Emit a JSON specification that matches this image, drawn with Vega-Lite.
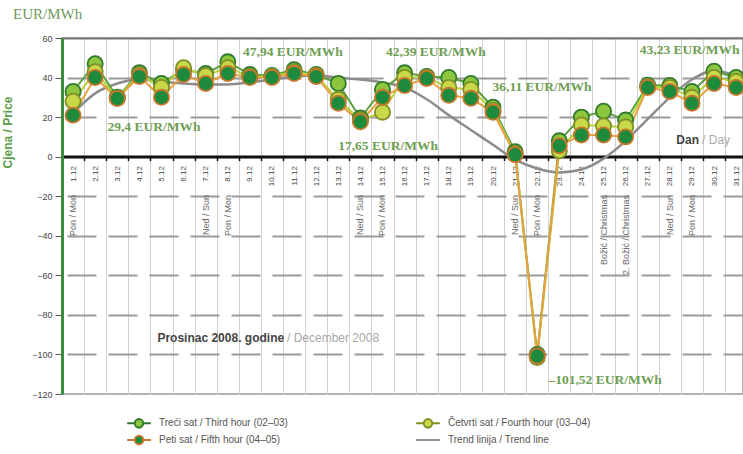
{
  "$schema": "https://vega.github.io/schema/vega-lite/v6.json",
  "width": 681,
  "height": 356,
  "autosize": {"type": "none"},
  "padding": {"left": 62, "right": 0, "top": 38, "bottom": 60},
  "background": "white",
  "title": {"text": "EUR/MWh", "anchor": "start", "frame": "group", "dx": -49, "offset": 12, "font": "Liberation Serif", "fontSize": 15, "fontWeight": "normal", "color": "#6f9a5a"},
  "config": {
    "view": {"stroke": "#9a9a9a", "strokeWidth": 1.5},
    "font": "Liberation Sans"
  },
  "datasets": {
    "series": [
      {"day": 1, "series": "T", "value": 33}, {"day": 2, "series": "T", "value": 47}, {"day": 3, "series": "T", "value": 30}, {"day": 4, "series": "T", "value": 42.5}, {"day": 5, "series": "T", "value": 37}, {"day": 6, "series": "T", "value": 44}, {"day": 7, "series": "T", "value": 42}, {"day": 8, "series": "T", "value": 47.94}, {"day": 9, "series": "T", "value": 41.5}, {"day": 10, "series": "T", "value": 41}, {"day": 11, "series": "T", "value": 44}, {"day": 12, "series": "T", "value": 41.5}, {"day": 13, "series": "T", "value": 37}, {"day": 14, "series": "T", "value": 19.5}, {"day": 15, "series": "T", "value": 34}, {"day": 16, "series": "T", "value": 42.39}, {"day": 17, "series": "T", "value": 40.5}, {"day": 18, "series": "T", "value": 40}, {"day": 19, "series": "T", "value": 37}, {"day": 20, "series": "T", "value": 25}, {"day": 21, "series": "T", "value": 2.5}, {"day": 22, "series": "T", "value": -100}, {"day": 23, "series": "T", "value": 8}, {"day": 24, "series": "T", "value": 20}, {"day": 25, "series": "T", "value": 23}, {"day": 26, "series": "T", "value": 18.5}, {"day": 27, "series": "T", "value": 36.11}, {"day": 28, "series": "T", "value": 36}, {"day": 29, "series": "T", "value": 33}, {"day": 30, "series": "T", "value": 43.23}, {"day": 31, "series": "T", "value": 40},
      {"day": 1, "series": "C", "value": 28}, {"day": 2, "series": "C", "value": 43}, {"day": 3, "series": "C", "value": 29.6}, {"day": 4, "series": "C", "value": 41.5}, {"day": 5, "series": "C", "value": 35}, {"day": 6, "series": "C", "value": 45}, {"day": 7, "series": "C", "value": 41}, {"day": 8, "series": "C", "value": 45}, {"day": 9, "series": "C", "value": 40.5}, {"day": 10, "series": "C", "value": 40.5}, {"day": 11, "series": "C", "value": 43}, {"day": 12, "series": "C", "value": 41}, {"day": 13, "series": "C", "value": 29}, {"day": 14, "series": "C", "value": 18.5}, {"day": 15, "series": "C", "value": 22.5}, {"day": 16, "series": "C", "value": 40}, {"day": 17, "series": "C", "value": 40}, {"day": 18, "series": "C", "value": 35}, {"day": 19, "series": "C", "value": 34}, {"day": 20, "series": "C", "value": 23.5}, {"day": 21, "series": "C", "value": 1.5}, {"day": 22, "series": "C", "value": -101.52}, {"day": 23, "series": "C", "value": 3}, {"day": 24, "series": "C", "value": 16}, {"day": 25, "series": "C", "value": 15.5}, {"day": 26, "series": "C", "value": 15}, {"day": 27, "series": "C", "value": 35.5}, {"day": 28, "series": "C", "value": 35}, {"day": 29, "series": "C", "value": 30}, {"day": 30, "series": "C", "value": 40}, {"day": 31, "series": "C", "value": 38},
      {"day": 1, "series": "P", "value": 21}, {"day": 2, "series": "P", "value": 40}, {"day": 3, "series": "P", "value": 29.4}, {"day": 4, "series": "P", "value": 40.5}, {"day": 5, "series": "P", "value": 30}, {"day": 6, "series": "P", "value": 41.5}, {"day": 7, "series": "P", "value": 37}, {"day": 8, "series": "P", "value": 42}, {"day": 9, "series": "P", "value": 40}, {"day": 10, "series": "P", "value": 40}, {"day": 11, "series": "P", "value": 42}, {"day": 12, "series": "P", "value": 40.5}, {"day": 13, "series": "P", "value": 27}, {"day": 14, "series": "P", "value": 17.65}, {"day": 15, "series": "P", "value": 30}, {"day": 16, "series": "P", "value": 36}, {"day": 17, "series": "P", "value": 39.5}, {"day": 18, "series": "P", "value": 31}, {"day": 19, "series": "P", "value": 29.5}, {"day": 20, "series": "P", "value": 22.5}, {"day": 21, "series": "P", "value": 1}, {"day": 22, "series": "P", "value": -100.8}, {"day": 23, "series": "P", "value": 5.5}, {"day": 24, "series": "P", "value": 11}, {"day": 25, "series": "P", "value": 11}, {"day": 26, "series": "P", "value": 10}, {"day": 27, "series": "P", "value": 35}, {"day": 28, "series": "P", "value": 33}, {"day": 29, "series": "P", "value": 27}, {"day": 30, "series": "P", "value": 37}, {"day": 31, "series": "P", "value": 35}
    ],
    "trend": [
      {"day": 1, "value": 22}, {"day": 2, "value": 32}, {"day": 3, "value": 37}, {"day": 4, "value": 39}, {"day": 5, "value": 38}, {"day": 6, "value": 37}, {"day": 7, "value": 36.5}, {"day": 8, "value": 36.5}, {"day": 9, "value": 37.5}, {"day": 10, "value": 39}, {"day": 11, "value": 40.5}, {"day": 12, "value": 41}, {"day": 13, "value": 40}, {"day": 14, "value": 39}, {"day": 15, "value": 37.5}, {"day": 16, "value": 35}, {"day": 17, "value": 29}, {"day": 18, "value": 21}, {"day": 19, "value": 13.5}, {"day": 20, "value": 6}, {"day": 21, "value": -1.5}, {"day": 22, "value": -6}, {"day": 23, "value": -8}, {"day": 24, "value": -6.5}, {"day": 25, "value": -1}, {"day": 26, "value": 8}, {"day": 27, "value": 19}, {"day": 28, "value": 30}, {"day": 29, "value": 39}, {"day": 30, "value": 43.5}, {"day": 31, "value": 41}
    ],
    "notes": [
      {"day": 4.66, "value": 15.0, "text": "29,4 EUR/MWh"},
      {"day": 10.95, "value": 52.9, "text": "47,94 EUR/MWh"},
      {"day": 17.42, "value": 52.9, "text": "42,39 EUR/MWh"},
      {"day": 15.25, "value": 5.4, "text": "17,65 EUR/MWh"},
      {"day": 22.22, "value": 35.2, "text": "36,11 EUR/MWh"},
      {"day": 28.9, "value": 53.9, "text": "43,23 EUR/MWh"},
      {"day": 25.07, "value": -112.9, "text": "–101,52 EUR/MWh"}
    ],
    "weekdays": [
      {"day": 1, "text": "Pon / Mon"}, {"day": 7, "text": "Ned / Sun"}, {"day": 8, "text": "Pon / Mon"},
      {"day": 14, "text": "Ned / Sun"}, {"day": 15, "text": "Pon / Mon"}, {"day": 21, "text": "Ned / Sun"},
      {"day": 22, "text": "Pon / Mon"}, {"day": 25, "text": "Božić / Christmas"}, {"day": 26, "text": "2. Božić / Christmas"},
      {"day": 28, "text": "Ned / Sun"}, {"day": 29, "text": "Pon / Mon"}
    ],
    "captions": [
      {"day": 10.55, "value": -91.7, "text": "Prosinac 2008. godine", "part": "hr"},
      {"day": 10.68, "value": -91.7, "text": "/ December 2008", "part": "en"},
      {"day": 29.32, "value": 8.4, "text": "Dan", "part": "hr"},
      {"day": 29.46, "value": 8.4, "text": "/ Day", "part": "en"}
    ]
  },
  "resolve": {"axis": {"x": "independent", "y": "independent"}},
  "layer": [
    {
      "data": {"name": "trend"},
      "mark": {"type": "line", "color": "#8c8c8c", "strokeWidth": 2.5, "interpolate": "monotone"},
      "encoding": {
        "x": {"field": "day", "type": "quantitative", "scale": {"domain": [0.5, 31.31], "nice": false, "zero": false},
          "axis": {"orient": "top", "values": [0.5,1.5,2.5,3.5,4.5,5.5,6.5,7.5,8.5,9.5,10.5,11.5,12.5,13.5,14.5,15.5,16.5,17.5,18.5,19.5,20.5,21.5,22.5,23.5,24.5,25.5,26.5,27.5,28.5,29.5,30.5],
            "grid": true, "gridColor": "#d2d2d2", "gridWidth": 1, "labels": false, "ticks": false, "domain": true, "domainColor": "#777", "domainWidth": 2, "title": null}},
        "y": {"field": "value", "type": "quantitative", "scale": {"domain": [-120, 60], "nice": false, "zero": false},
          "axis": {"orient": "left", "values": [-120,-100,-80,-60,-40,-20,0,20,40,60],
            "grid": true, "gridColor": "#9a9a9a", "gridWidth": 2, "gridDash": [29, 12], "gridDashOffset": 36,
            "gridOpacity": {"condition": {"test": "datum.value == 0 || datum.value == 60 || datum.value == -120", "value": 0}, "value": 1},
            "domainColor": "#3d8b3d", "domainWidth": 3, "tickColor": "#555", "tickSize": 7, "labelFontSize": 9, "labelColor": "#444", "labelPadding": 3,
            "title": "Cjena / Price", "titleColor": "#5aa046", "titleFontSize": 12, "titleFontWeight": "bold", "titleX": -48, "titleY": 94}}
      }
    },
    {
      "data": {"name": "series"},
      "mark": {"type": "line", "strokeWidth": 2},
      "encoding": {
        "x": {"field": "day", "type": "quantitative", "scale": {"domain": [0.5, 31.31], "nice": false, "zero": false},
          "axis": {"orient": "bottom", "offset": -237.4, "values": [1,2,3,4,5,6,7,8,9,10,11,12,13,14,15,16,17,18,19,20,21,22,23,24,25,26,27,28,29,30,31],
            "labelExpr": "datum.value + '.12'", "labelAngle": 270, "labelFontSize": 8, "labelColor": "#444", "labelPadding": 5, "labelFlush": false, "labelOverlap": false,
            "grid": false, "domain": true, "domainColor": "#111", "domainWidth": 3, "ticks": true, "tickColor": "#111", "tickSize": 4, "tickWidth": 1.5, "tickOffset": 11.05, "labelOffset": -11.05, "title": null}},
        "y": {"field": "value", "type": "quantitative", "scale": {"domain": [-120, 60], "nice": false, "zero": false}, "axis": null},
        "color": {"field": "series", "type": "nominal", "scale": {"domain": ["T", "C", "P"], "range": ["#5aa03c", "#b8d23c", "#e8a040"]}, "legend": null},
        "detail": {"field": "series"}
      }
    },
    {
      "data": {"name": "series"},
      "mark": {"type": "point", "shape": "circle", "filled": true, "size": 230, "strokeWidth": 1.8, "opacity": 1},
      "encoding": {
        "x": {"field": "day", "type": "quantitative", "scale": {"domain": [0.5, 31.31], "nice": false, "zero": false}, "axis": null},
        "y": {"field": "value", "type": "quantitative", "scale": {"domain": [-120, 60], "nice": false, "zero": false}, "axis": null},
        "fill": {"field": "series", "type": "nominal", "scale": {"domain": ["T", "P", "C", "Trend"], "range": ["#8cc63f", "#1e8a3c", "#c9d848", "#8c8c8c"]},
          "legend": {"orient": "none", "legendX": 71, "legendY": 379, "columns": 2, "title": null, "padding": 0,
            "labelExpr": "datum.label == 'T' ? 'Treći sat / Third hour (02–03)' : datum.label == 'C' ? 'Četvrti sat / Fourth hour (03–04)' : datum.label == 'P' ? 'Peti sat / Fifth hour (04–05)' : 'Trend linija / Trend line'",
            "labelFontSize": 10, "labelColor": "#555", "labelFont": "Liberation Sans", "symbolSize": 90, "symbolStrokeWidth": 2, "labelOffset": 14, "columnPadding": 123, "rowPadding": -1}},
        "stroke": {"field": "series", "type": "nominal", "scale": {"domain": ["T", "P", "C", "Trend"], "range": ["#2f7a2c", "#c8782e", "#7f9028", "#8c8c8c"]}}
      }
    },
    {
      "data": {"name": "series"},
      "transform": [{"filter": "datum.day < 0"}],
      "mark": {"type": "point", "filled": true, "size": 90},
      "encoding": {
        "x": {"field": "day", "type": "quantitative", "scale": {"domain": [0.5, 31.31], "nice": false, "zero": false}, "axis": null},
        "y": {"field": "value", "type": "quantitative", "scale": {"domain": [-120, 60], "nice": false, "zero": false}, "axis": null},
        "shape": {"field": "series", "type": "nominal", "scale": {"domain": ["T", "P", "C", "Trend"], "range": [
          "M-2.5,0H-0.9M0.9,0H2.5M-0.9,0A0.9,0.9,0,1,1,0.9,0A0.9,0.9,0,1,1,-0.9,0Z",
          "M-2.5,0H-0.9M0.9,0H2.5M-0.9,0A0.9,0.9,0,1,1,0.9,0A0.9,0.9,0,1,1,-0.9,0Z",
          "M-2.5,0H-0.9M0.9,0H2.5M-0.9,0A0.9,0.9,0,1,1,0.9,0A0.9,0.9,0,1,1,-0.9,0Z",
          "M-2.5,0H2.5"]}}
      }
    },
    {
      "data": {"name": "notes"},
      "mark": {"type": "text", "font": "Liberation Serif", "fontSize": 13.5, "fontWeight": "bold", "color": "#6e9e52", "align": "center", "baseline": "middle"},
      "encoding": {
        "x": {"field": "day", "type": "quantitative", "scale": {"domain": [0.5, 31.31], "nice": false, "zero": false}, "axis": null},
        "y": {"field": "value", "type": "quantitative", "scale": {"domain": [-120, 60], "nice": false, "zero": false}, "axis": null},
        "text": {"field": "text"}
      }
    },
    {
      "data": {"name": "weekdays"},
      "mark": {"type": "text", "angle": 270, "align": "right", "baseline": "middle", "fontSize": 9, "color": "#6a6a6a"},
      "encoding": {
        "x": {"field": "day", "type": "quantitative", "scale": {"domain": [0.5, 31.31], "nice": false, "zero": false}, "axis": null},
        "y": {"datum": -19.4, "type": "quantitative", "scale": {"domain": [-120, 60], "nice": false, "zero": false}, "axis": null},
        "text": {"field": "text"}
      }
    },
    {
      "data": {"name": "captions"},
      "transform": [{"filter": "datum.part == 'hr'"}],
      "mark": {"type": "text", "align": "right", "baseline": "middle", "fontSize": 12, "fontWeight": "bold", "color": "#444"},
      "encoding": {
        "x": {"field": "day", "type": "quantitative", "scale": {"domain": [0.5, 31.31], "nice": false, "zero": false}, "axis": null},
        "y": {"field": "value", "type": "quantitative", "scale": {"domain": [-120, 60], "nice": false, "zero": false}, "axis": null},
        "text": {"field": "text"}
      }
    },
    {
      "data": {"name": "captions"},
      "transform": [{"filter": "datum.part == 'en'"}],
      "mark": {"type": "text", "align": "left", "baseline": "middle", "fontSize": 12, "color": "#a8a8a8"},
      "encoding": {
        "x": {"field": "day", "type": "quantitative", "scale": {"domain": [0.5, 31.31], "nice": false, "zero": false}, "axis": null},
        "y": {"field": "value", "type": "quantitative", "scale": {"domain": [-120, 60], "nice": false, "zero": false}, "axis": null},
        "text": {"field": "text"}
      }
    }
  ]
}
